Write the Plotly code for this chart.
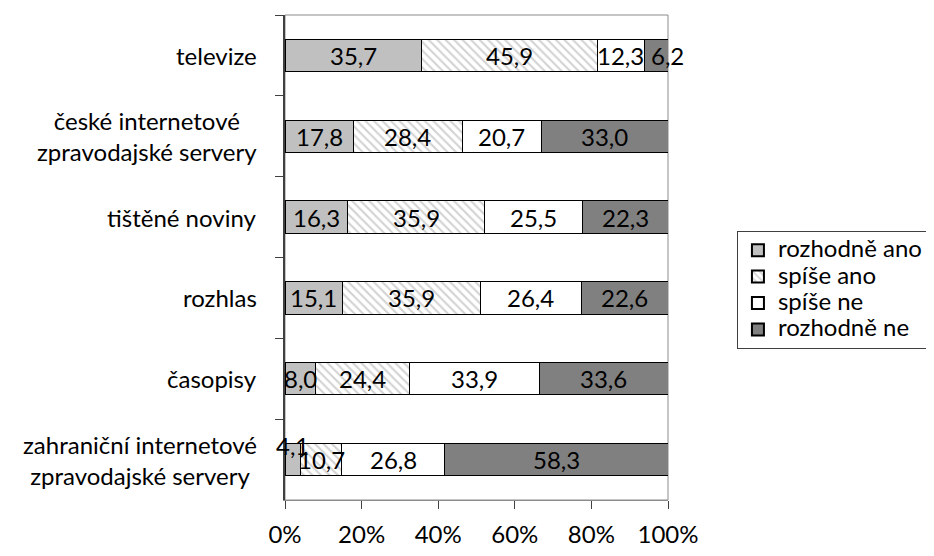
import plotly.graph_objects as go

categories = ["televize", "české internetové<br>zpravodajské servery", "tištěné noviny",
              "rozhlas", "časopisy", "zahraniční internetové<br>zpravodajské servery"]
series_names = ["rozhodně ano", "spíše ano", "spíše ne", "rozhodně ne"]
rozhodne_ano = [35.7, 17.8, 16.3, 15.1, 8.0, 4.1]
spise_ano = [45.9, 28.4, 35.9, 35.9, 24.4, 10.7]
spise_ne = [12.3, 20.7, 25.5, 26.4, 33.9, 26.8]
rozhodne_ne = [6.2, 33.0, 22.3, 22.6, 33.6, 58.3]
x_ticks = [0, 20, 40, 60, 80, 100]
x_tick_labels = [f"{t}%" for t in x_ticks]

series = [rozhodne_ano, spise_ano, spise_ne, rozhodne_ne]
FONT = "Lato"
FS = 24

styles = [
    dict(color="#c0c0c0"),
    dict(color="white", pattern=dict(shape="\\", fgcolor="#a6a6a6", size=6, solidity=0.35)),
    dict(color="white"),
    dict(color="#808080"),
]

fig = go.Figure()
for name, vals, st in zip(series_names, series, styles):
    fig.add_trace(go.Bar(
        y=categories, x=vals, orientation="h",
        name=f'<span style="font-size:{FS}px">{name}</span>',
        marker=dict(**st, line=dict(color="black", width=1)),
        hoverinfo="skip",
    ))

# data labels
for i, cat in enumerate(categories):
    total = sum(s[i] for s in series)
    cum = 0
    for j, s in enumerate(series):
        v = s[i]
        mid = (cum + v / 2) / total * 100
        cum += v
        yshift = 0
        xshift = 0
        if v < 5 and j == 0:
            yshift = 14
        if v < 7 and j == 3:
            xshift = 11
        fig.add_annotation(x=mid, y=cat, text=f"{v:.1f}".replace(".", ","),
                           showarrow=False, xshift=xshift, yshift=yshift,
                           font=dict(family=FONT, size=FS, color="black"))

# category labels
for cat in categories:
    fig.add_annotation(x=0, xref="paper", y=cat, yref="y", text=cat, showarrow=False,
                       xanchor="right", align="center", xshift=-26,
                       font=dict(family=FONT, size=FS, color="black"))

fig.update_layout(
    barmode="stack", barnorm="percent", bargap=0.6,
    width=926, height=548,
    margin=dict(l=277, r=266, t=7, b=56, autoexpand=False),
    paper_bgcolor="white", plot_bgcolor="white",
    font=dict(family=FONT, size=FS, color="black"),
    showlegend=True,
    legend=dict(x=1.18, y=0.433, xanchor="left", yanchor="middle",
                bordercolor="#404040", borderwidth=1, bgcolor="white",
                font=dict(family=FONT, size=18), traceorder="normal",
                itemsizing="constant", tracegroupgap=0),
    shapes=[dict(type="rect", xref="paper", yref="paper", x0=0, x1=1, y0=0, y1=1,
                 line=dict(color="#8c8c8c", width=1), layer="below")],
)
fig.update_xaxes(range=[0, 100], tickmode="array", tickvals=x_ticks, ticktext=x_tick_labels,
                 showgrid=False, showline=True, linecolor="#8c8c8c", ticks="outside",
                 ticklen=8, tickcolor="#404040", ticklabelstandoff=5, zeroline=False,
                 automargin=False, tickfont=dict(family=FONT, size=FS))
fig.update_yaxes(type="category", autorange="reversed", showticklabels=False,
                 showline=True, linecolor="#404040", linewidth=1.5, ticks="outside",
                 ticklen=8, tickcolor="#404040", tickson="boundaries", showgrid=False,
                 automargin=False)

fig.write_html("out.html")
